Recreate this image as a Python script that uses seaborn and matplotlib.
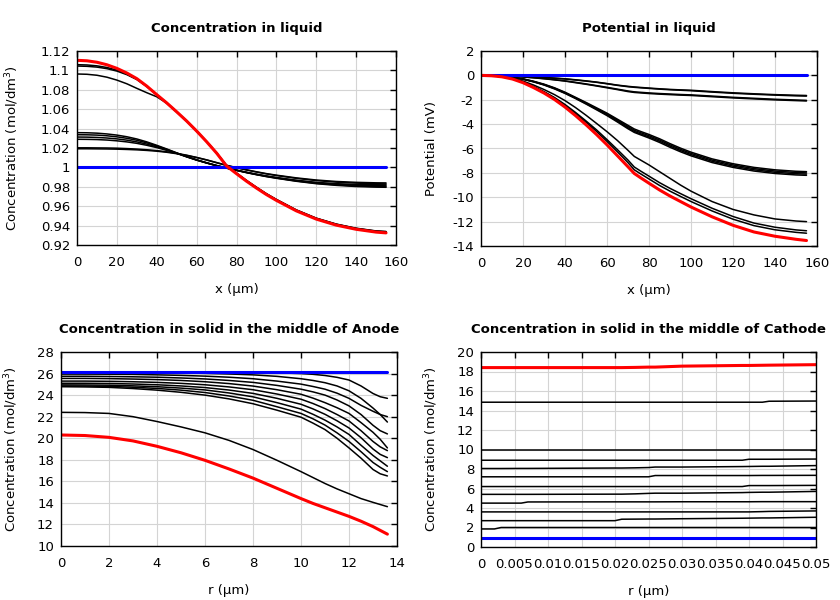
import matplotlib
matplotlib.use("Agg")
import matplotlib.pyplot as plt
import seaborn as sns
from matplotlib.ticker import FuncFormatter, MultipleLocator

# ---------------- data: concentration in liquid ----------------
liq_x = [0, 5, 10, 15, 20, 25, 30, 35, 40, 45, 50, 55, 60, 65, 70, 75, 80, 85, 90, 95, 100,
         110, 120, 130, 140, 150, 155]
liq_initial = [1.0] * len(liq_x)
liq_final = [1.1104, 1.1099, 1.1084, 1.1058, 1.1021, 1.0973, 1.0915, 1.0838, 1.0750, 1.0665,
             1.0573, 1.0478, 1.0375, 1.0265, 1.0148, 1.0015, 0.9935, 0.9858, 0.9787, 0.9720,
             0.9660, 0.9552, 0.9467, 0.9405, 0.9362, 0.9333, 0.9325]
liq_black = [
    [1.1059, 1.1056, 1.1047, 1.1030, 1.1003, 1.0963, 1.0910, 1.0836, 1.0750, 1.0665, 1.0573,
     1.0478, 1.0375, 1.0265, 1.0149, 1.0017, 0.9938, 0.9861, 0.9791, 0.9724, 0.9665, 0.9557,
     0.9472, 0.9411, 0.9368, 0.9340, 0.9334],
    [1.1045, 1.1042, 1.1034, 1.1018, 1.0993, 1.0956, 1.0906, 1.0834, 1.0749, 1.0665, 1.0573,
     1.0478, 1.0375, 1.0266, 1.0150, 1.0019, 0.9940, 0.9864, 0.9794, 0.9727, 0.9668, 0.9560,
     0.9475, 0.9414, 0.9371, 0.9343, 0.9337],
    [1.0963, 1.0960, 1.0950, 1.0930, 1.0900, 1.0862, 1.0815, 1.0770, 1.0728, 1.0662, 1.0572,
     1.0478, 1.0376, 1.0267, 1.0151, 1.0020, 0.9942, 0.9866, 0.9796, 0.9729, 0.9670, 0.9562,
     0.9477, 0.9416, 0.9373, 0.9345, 0.9339],
    [1.0358, 1.0357, 1.0353, 1.0345, 1.0333, 1.0316, 1.0293, 1.0263, 1.0228, 1.0190, 1.0150,
     1.0112, 1.0078, 1.0048, 1.0020, 0.9995, 0.9972, 0.9950, 0.9930, 0.9912, 0.9896, 0.9868,
     0.9846, 0.9832, 0.9824, 0.9821, 0.9820],
    [1.0337, 1.0336, 1.0333, 1.0326, 1.0315, 1.0300, 1.0280, 1.0253, 1.0221, 1.0186, 1.0148,
     1.0111, 1.0077, 1.0047, 1.0019, 0.9994, 0.9971, 0.9949, 0.9928, 0.9910, 0.9893, 0.9864,
     0.9841, 0.9826, 0.9816, 0.9811, 0.9810],
    [1.0313, 1.0312, 1.0309, 1.0303, 1.0294, 1.0281, 1.0263, 1.0240, 1.0212, 1.0181, 1.0146,
     1.0110, 1.0076, 1.0046, 1.0018, 0.9993, 0.9970, 0.9947, 0.9926, 0.9907, 0.9890, 0.9860,
     0.9836, 0.9820, 0.9809, 0.9802, 0.9800],
    [1.0290, 1.0289, 1.0287, 1.0282, 1.0274, 1.0263, 1.0248, 1.0228, 1.0204, 1.0176, 1.0144,
     1.0109, 1.0075, 1.0045, 1.0017, 0.9992, 0.9969, 0.9946, 0.9925, 0.9905, 0.9888, 0.9857,
     0.9832, 0.9815, 0.9803, 0.9797, 0.9795],
    [1.0202, 1.0202, 1.0201, 1.0200, 1.0198, 1.0194, 1.0189, 1.0182, 1.0173, 1.0161, 1.0145,
     1.0126, 1.0103, 1.0078, 1.0050, 1.0022, 0.9998, 0.9976, 0.9955, 0.9936, 0.9920, 0.9892,
     0.9870, 0.9855, 0.9846, 0.9841, 0.9840],
    [1.0192, 1.0192, 1.0191, 1.0190, 1.0188, 1.0185, 1.0181, 1.0175, 1.0167, 1.0156, 1.0141,
     1.0123, 1.0101, 1.0076, 1.0048, 1.0020, 0.9996, 0.9973, 0.9952, 0.9933, 0.9916, 0.9887,
     0.9864, 0.9848, 0.9838, 0.9832, 0.9830],
]

# ---------------- data: potential in liquid ----------------
pot_x = [0, 5, 10, 15, 20, 25, 30, 35, 40, 45, 50, 55, 60, 65, 70, 73, 76, 80, 85, 90, 95,
         100, 110, 120, 130, 140, 150, 155]
pot_initial = [0.0] * len(pot_x)
pot_final = [0, -0.03, -0.12, -0.30, -0.60, -1.0, -1.45, -1.98, -2.6, -3.3, -4.05, -4.85,
             -5.7, -6.6, -7.5, -8.05, -8.4, -8.85, -9.4, -9.9, -10.35, -10.8, -11.6, -12.3,
             -12.85, -13.2, -13.45, -13.55]
pot_black = [
    [0, -0.03, -0.11, -0.28, -0.56, -0.94, -1.37, -1.87, -2.46, -3.13, -3.85, -4.6, -5.42,
     -6.28, -7.16, -7.75, -8.08, -8.5, -9.03, -9.5, -9.93, -10.35, -11.12, -11.8, -12.33,
     -12.67, -12.88, -12.95],
    [0, -0.03, -0.11, -0.27, -0.54, -0.91, -1.33, -1.82, -2.39, -3.04, -3.74, -4.47, -5.27,
     -6.1, -6.95, -7.52, -7.85, -8.27, -8.8, -9.27, -9.7, -10.12, -10.9, -11.58, -12.12,
     -12.46, -12.68, -12.75],
    [0, -0.02, -0.09, -0.23, -0.47, -0.79, -1.16, -1.58, -2.07, -2.64, -3.27, -3.94, -4.62,
     -5.35, -6.15, -6.65, -6.95, -7.35, -7.9, -8.45, -9.0, -9.5, -10.35, -11.0, -11.45,
     -11.78, -11.95, -12.0],
    [0, -0.02, -0.06, -0.15, -0.28, -0.48, -0.72, -1.02, -1.38, -1.8, -2.22, -2.66, -3.1,
     -3.6, -4.1, -4.4, -4.6, -4.85, -5.2, -5.6, -5.97, -6.3, -6.85, -7.25, -7.55, -7.75,
     -7.87, -7.9],
    [0, -0.02, -0.07, -0.16, -0.3, -0.5, -0.75, -1.05, -1.42, -1.84, -2.27, -2.72, -3.17,
     -3.68, -4.2, -4.5, -4.7, -4.95, -5.3, -5.7, -6.07, -6.4, -6.95, -7.35, -7.65, -7.85,
     -7.97, -8.0],
    [0, -0.02, -0.07, -0.17, -0.31, -0.52, -0.77, -1.08, -1.45, -1.87, -2.31, -2.77, -3.24,
     -3.76, -4.3, -4.6, -4.8, -5.05, -5.4, -5.8, -6.17, -6.5, -7.05, -7.45, -7.75, -7.95,
     -8.07, -8.1],
    [0, -0.02, -0.07, -0.17, -0.32, -0.53, -0.79, -1.11, -1.48, -1.9, -2.35, -2.82, -3.3,
     -3.83, -4.38, -4.68, -4.88, -5.14, -5.5, -5.9, -6.27, -6.6, -7.15, -7.55, -7.85, -8.05,
     -8.17, -8.2],
    [0, -0.01, -0.02, -0.05, -0.08, -0.12, -0.17, -0.22, -0.28, -0.36, -0.45, -0.55, -0.67,
     -0.8, -0.9, -0.95, -0.99, -1.04, -1.1, -1.15, -1.19, -1.22, -1.33, -1.43, -1.51, -1.58,
     -1.63, -1.65],
    [0, -0.01, -0.02, -0.05, -0.09, -0.13, -0.18, -0.24, -0.3, -0.38, -0.47, -0.57, -0.69,
     -0.82, -0.93, -0.98, -1.02, -1.07, -1.13, -1.18, -1.22, -1.26, -1.37, -1.47, -1.55,
     -1.62, -1.68, -1.7],
    [0, -0.01, -0.03, -0.07, -0.12, -0.19, -0.26, -0.35, -0.45, -0.57, -0.7, -0.84, -0.98,
     -1.13, -1.28, -1.35, -1.39, -1.44, -1.49, -1.53, -1.57, -1.6, -1.7, -1.8, -1.88, -1.96,
     -2.02, -2.05],
    [0, -0.01, -0.03, -0.07, -0.13, -0.2, -0.28, -0.37, -0.47, -0.6, -0.73, -0.87, -1.02,
     -1.17, -1.33, -1.4, -1.44, -1.49, -1.54, -1.58, -1.62, -1.65, -1.75, -1.85, -1.93, -2.01,
     -2.07, -2.1],
]

# ---------------- data: anode solid ----------------
an_r = [0, 1, 2, 3, 4, 5, 6, 7, 8, 9, 10, 10.5, 11, 11.5, 12, 12.5, 13, 13.3, 13.6]
an_initial = [26.15] * len(an_r)
an_final = [20.3, 20.25, 20.08, 19.75, 19.25, 18.65, 17.95, 17.15, 16.3, 15.35, 14.4, 13.95,
            13.55, 13.15, 12.75, 12.3, 11.8, 11.45, 11.1]
an_black = [
    [26.15, 26.15, 26.15, 26.15, 26.15, 26.15, 26.14, 26.13, 26.11, 26.07, 26.0, 25.93, 25.82,
     25.65, 25.4, 24.85, 24.15, 23.85, 23.7],
    [26.12, 26.12, 26.11, 26.1, 26.08, 26.06, 26.02, 25.96, 25.88, 25.74, 25.52, 25.36, 25.15,
     24.85, 24.4, 23.7, 22.8, 22.2, 21.5],
    [25.95, 25.95, 25.94, 25.92, 25.88, 25.83, 25.76, 25.66, 25.52, 25.3, 25.02, 24.8, 24.55,
     24.18, 23.7, 23.05, 22.5, 22.2, 22.0],
    [25.75, 25.75, 25.73, 25.7, 25.66, 25.59, 25.5, 25.36, 25.18, 24.9, 24.55, 24.3, 24.0,
     23.55, 23.0, 22.2, 21.2, 20.7, 20.4],
    [25.55, 25.55, 25.53, 25.49, 25.44, 25.36, 25.24, 25.07, 24.84, 24.5, 24.08, 23.72, 23.3,
     22.83, 22.3, 21.45, 20.55, 19.9, 19.1],
    [25.3, 25.3, 25.28, 25.24, 25.18, 25.09, 24.96, 24.76, 24.5, 24.1, 23.62, 23.22, 22.75,
     22.2, 21.6, 20.7, 19.7, 19.2, 18.85],
    [25.1, 25.1, 25.08, 25.03, 24.96, 24.85, 24.7, 24.47, 24.16, 23.7, 23.15, 22.72, 22.22,
     21.62, 20.95, 20.05, 19.0, 18.5, 18.2],
    [24.95, 24.94, 24.92, 24.86, 24.78, 24.65, 24.48, 24.2, 23.84, 23.3, 22.7, 22.22, 21.68,
     21.05, 20.35, 19.35, 18.4, 17.9, 17.4],
    [24.85, 24.84, 24.81, 24.73, 24.62, 24.46, 24.24, 23.92, 23.52, 22.92, 22.3, 21.8, 21.22,
     20.5, 19.7, 18.75, 17.75, 17.3, 16.9],
    [24.78, 24.76, 24.72, 24.61, 24.46, 24.26, 24.0, 23.65, 23.2, 22.6, 21.95, 21.4, 20.8,
     20.0, 19.1, 18.15, 17.1, 16.7, 16.5],
    [22.4, 22.38, 22.3, 22.0, 21.55, 21.05, 20.5, 19.8, 18.95, 17.95, 16.9, 16.35, 15.8, 15.3,
     14.85, 14.4, 14.05, 13.85, 13.65],
]

# ---------------- data: cathode solid ----------------
ca_r = [0, 0.002, 0.003, 0.006, 0.007, 0.02, 0.021, 0.023, 0.025, 0.026, 0.03, 0.039,
        0.04, 0.042, 0.043, 0.05]
ca_initial = [0.9] * len(ca_r)
ca_final = [18.4, 18.4, 18.4, 18.4, 18.4, 18.4, 18.4, 18.42, 18.45, 18.45, 18.55, 18.62,
            18.62, 18.64, 18.65, 18.7]
ca_black = [
    [14.85] * 14 + [14.95, 14.97],
    [10.0] * 16,
    [8.9] * 12 + [9.0, 9.0, 9.0, 9.02],
    [8.05, 8.05, 8.05, 8.06, 8.06, 8.1, 8.1, 8.12, 8.15, 8.2, 8.2, 8.25, 8.26, 8.28, 8.28, 8.35],
    [7.2] * 9 + [7.33, 7.33, 7.33, 7.33, 7.34, 7.34, 7.35],
    [6.2] * 12 + [6.3, 6.3, 6.3, 6.32],
    [5.4, 5.4, 5.4, 5.4, 5.4, 5.42, 5.42, 5.45, 5.5, 5.52, 5.52, 5.58, 5.6, 5.62, 5.62, 5.7],
    [4.5, 4.5, 4.5, 4.5, 4.62, 4.63, 4.63, 4.63, 4.63, 4.63, 4.64, 4.64, 4.64, 4.65, 4.65, 4.65],
    [3.6] * 13 + [3.63, 3.65, 3.7],
    [2.7] * 6 + [2.85, 2.86, 2.87, 2.87, 2.9, 2.95, 2.96, 2.98, 2.98, 3.05],
    [1.85, 1.85, 2.0, 2.0, 2.0, 2.0, 2.0, 2.0, 2.0, 2.0, 2.0, 2.0, 2.0, 2.0, 2.0, 2.0],
]

# ---------------- plotting ----------------
sns.set_style("white")
plt.rcParams["font.family"] = ["DejaVu Sans"]
plt.rcParams["mathtext.default"] = "regular"
plt.rcParams["text.color"] = "black"
plt.rcParams["axes.labelcolor"] = "black"
plt.rcParams["xtick.color"] = "black"
plt.rcParams["ytick.color"] = "black"

FS = 9.5
fig = plt.figure(figsize=(8.4, 6), dpi=100)


def px_axes(left, top, right, bottom):
    return fig.add_axes([left / 840, 1 - bottom / 600, (right - left) / 840, (bottom - top) / 600])


fmt = FuncFormatter(lambda v, p: f"{round(v, 6):g}")


def draw(ax, x, black, initial, final):
    for ys in black:
        sns.lineplot(x=x, y=ys, ax=ax, color="black", lw=1.1, estimator=None, sort=False)
    sns.lineplot(x=x, y=initial, ax=ax, color="#0000ff", lw=2.2, estimator=None, sort=False)
    sns.lineplot(x=x, y=final, ax=ax, color="#ff0000", lw=2.2, estimator=None, sort=False)


def style(ax, title, xlabel, ylabel, xlim, ylim, xstep, ystep, ylabelpad):
    ax.set_xlim(*xlim)
    ax.set_ylim(*ylim)
    ax.xaxis.set_major_locator(MultipleLocator(xstep))
    ax.yaxis.set_major_locator(MultipleLocator(ystep))
    ax.xaxis.set_major_formatter(fmt)
    ax.yaxis.set_major_formatter(fmt)
    ax.grid(True, color="#d4d4d4", lw=0.8)
    ax.set_axisbelow(True)
    ax.tick_params(direction="in", length=4, width=1, top=True, right=True,
                   labelsize=FS, colors="black")
    ax.tick_params(axis="x", pad=8)
    ax.tick_params(axis="y", pad=5)
    for s in ax.spines.values():
        s.set_color("black")
        s.set_linewidth(1)
    ax.set_title(title, fontsize=FS, fontweight="bold", pad=14, color="black")
    ax.set_xlabel(xlabel, fontsize=FS, labelpad=10, color="black")
    ax.set_ylabel(ylabel, fontsize=FS, labelpad=ylabelpad, color="black")


ax1 = px_axes(77, 51, 396, 245)
draw(ax1, liq_x, liq_black, liq_initial, liq_final)
style(ax1, "Concentration in liquid", "x (µm)", "Concentration (mol/dm$^3$)",
      (0, 160), (0.92, 1.12), 20, 0.02, 14)

ax2 = px_axes(481, 51, 817, 246)
draw(ax2, pot_x, pot_black, pot_initial, pot_final)
style(ax2, "Potential in liquid", "x (µm)", "Potential (mV)",
      (0, 160), (-14, 2), 20, 2, 10)

ax3 = px_axes(61, 352, 397, 546)
draw(ax3, an_r, an_black, an_initial, an_final)
style(ax3, "Concentration in solid in the middle of Anode", "r (µm)",
      "Concentration (mol/dm$^3$)", (0, 14), (10, 28), 2, 2, 12)

ax4 = px_axes(481, 352, 816, 547)
draw(ax4, ca_r, ca_black, ca_initial, ca_final)
style(ax4, "Concentration in solid in the middle of Cathode", "r (µm)",
      "Concentration (mol/dm$^3$)", (0, 0.05), (0, 20), 0.005, 2, 12)

fig.savefig("out.png", dpi=100)
